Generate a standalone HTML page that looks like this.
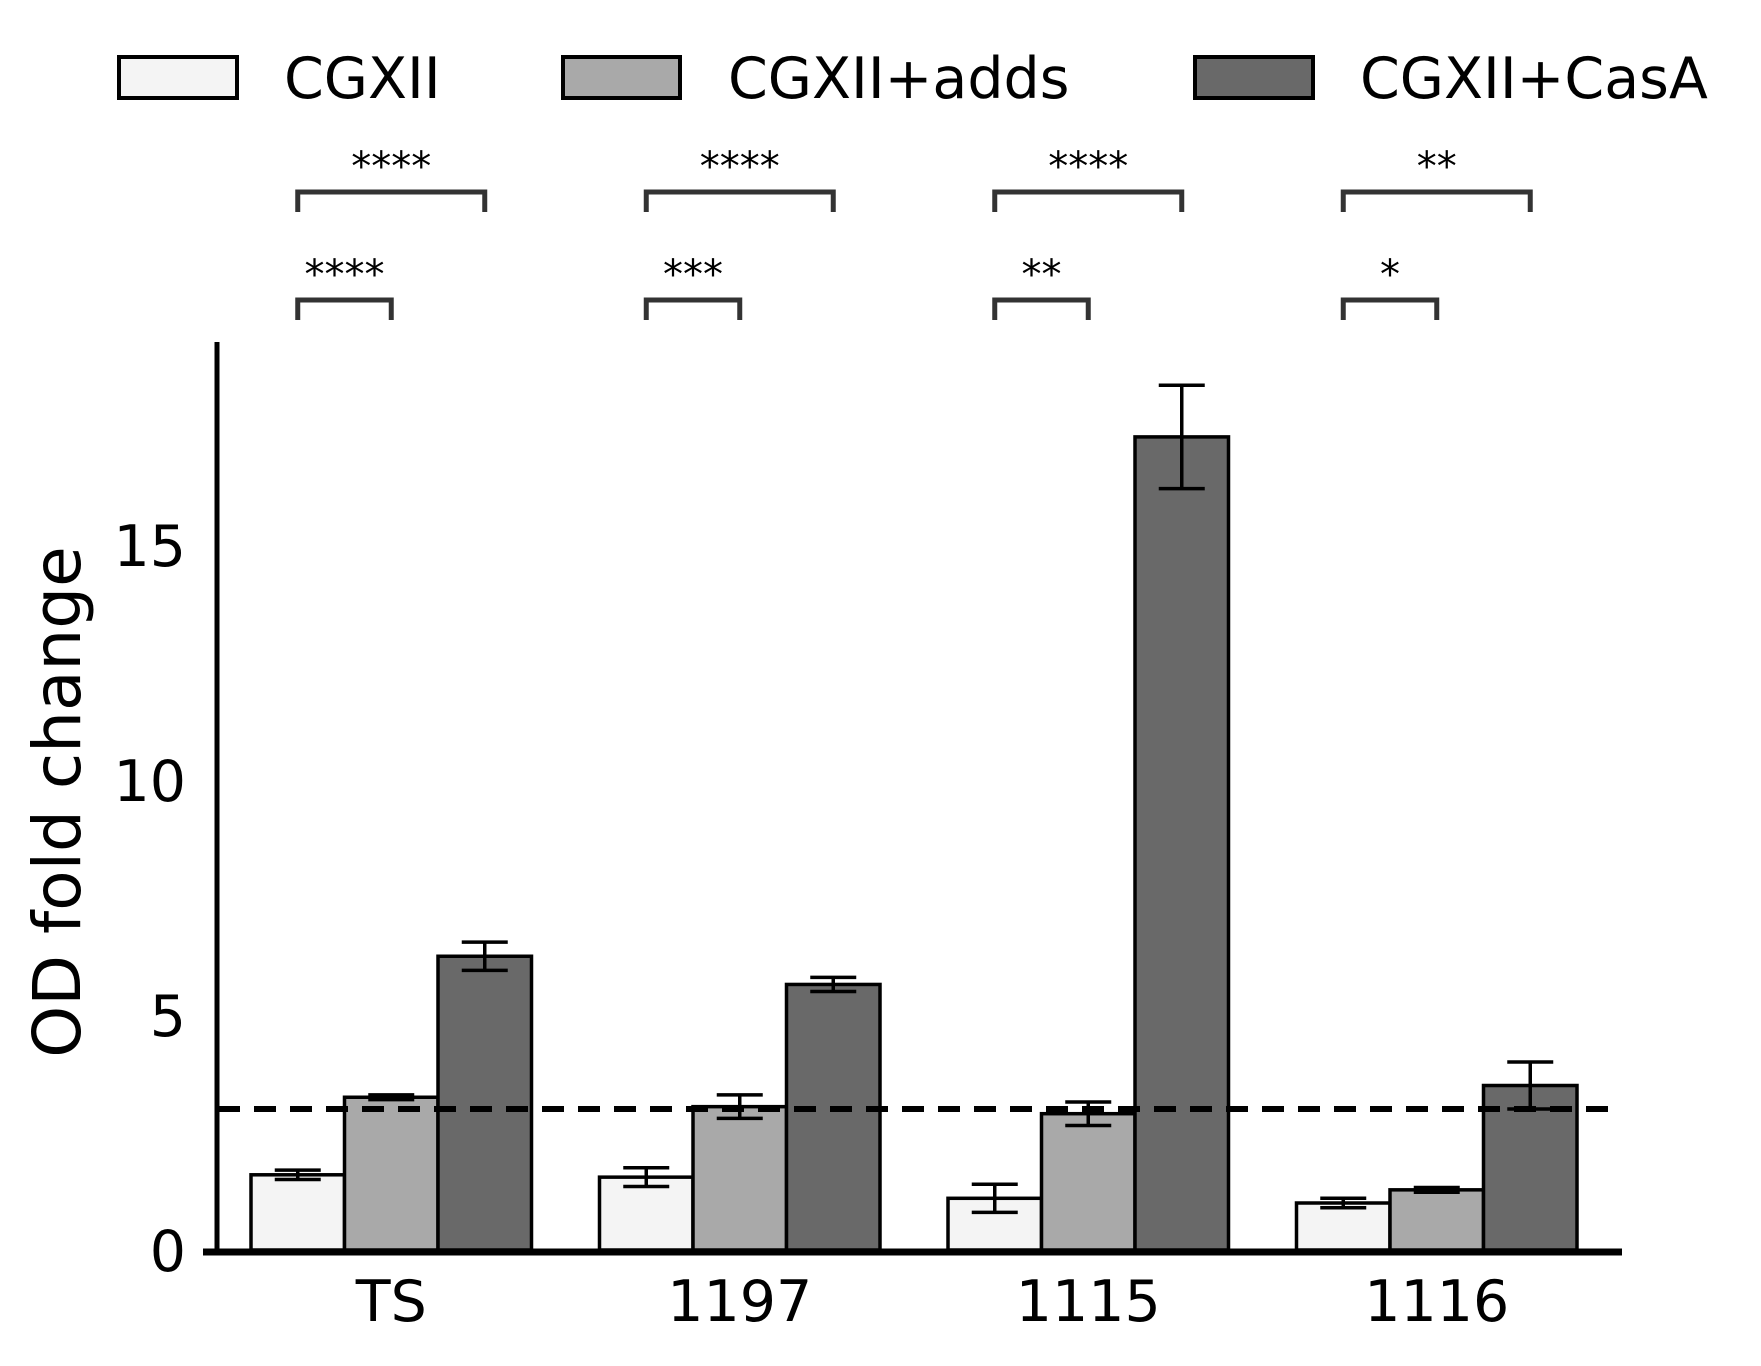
<!DOCTYPE html>
<html><head><meta charset="utf-8"><style>
body{margin:0;background:#fff}
svg{display:block;font-family:"DejaVu Sans","Liberation Sans",sans-serif}
</style></head><body>
<svg id="c" width="1761" height="1366" viewBox="0 0 1761 1366">
<g>
<rect x="119" y="57" width="118" height="41" fill="#f4f4f4" stroke="#000" stroke-width="4"/>
<text x="284" y="98" font-size="57">CGXII</text>
<rect x="563" y="57" width="117" height="41" fill="#a9a9a9" stroke="#000" stroke-width="4"/>
<text x="728" y="98" font-size="57">CGXII+adds</text>
<rect x="1195" y="57" width="118" height="41" fill="#696969" stroke="#000" stroke-width="4"/>
<text x="1360" y="98" font-size="57">CGXII+CasA</text>
</g>
<text transform="translate(80,802) rotate(-90)" text-anchor="middle" font-size="66">OD fold change</text>
<g id="plot"></g>
</svg>
<script>
const categories=["TS","1197","1115","1116"];
const cgxii=[1.6,1.55,1.1,1.0];
const cgxiiErr=[0.1,0.2,0.3,0.1];
const adds=[3.25,3.05,2.9,1.28];
const addsErr=[0.05,0.25,0.25,0.05];
const casa=[6.25,5.65,17.3,3.5];
const casaErr=[0.3,0.15,1.1,0.5];
const yTicks=[0,5,10,15];
const sigLong=["****","****","****","**"];
const sigShort=["****","***","**","*"];
const threshold=3;
const NS="http://www.w3.org/2000/svg";
const g=document.getElementById('plot');
const y0=1250,pxPerUnit=47.0;
const y=v=>y0-v*pxPerUnit;
const groupX=i=>251+i*348.5;
const bw=93.5;
function mk(t,a){const e=document.createElementNS(NS,t);for(const k in a)e.setAttribute(k,a[k]);g.appendChild(e);return e;}
const series=[[cgxii,cgxiiErr,"#f4f4f4","cgxii"],[adds,addsErr,"#a9a9a9","adds"],[casa,casaErr,"#696969","casa"]];
categories.forEach((c,i)=>{
 series.forEach((s,j)=>{
  const x=groupX(i)+j*bw,v=s[0][i],e=s[1][i];
  const r=mk('rect',{x:x,y:y(v),width:bw,height:y0-y(v),fill:s[2],stroke:'#000','stroke-width':3.5});
  
  
  const cx=x+bw/2;
  const eb=mk('path',{d:`M${cx},${y(v+e)}V${y(v-e)}M${cx-23},${y(v+e)}h46M${cx-23},${y(v-e)}h46`,stroke:'#000','stroke-width':3.5,fill:'none'});
  
  
 });
 const t=mk('text',{x:groupX(i)+bw*1.5,y:1321,'font-size':57,'text-anchor':'middle'});
 t.textContent=c;
 
 
 const x1=groupX(i)+bw/2,x2=x1+bw,x3=x1+2*bw;
 const b1=mk('path',{d:`M${x1},212V192H${x3}V212`,stroke:'#333','stroke-width':5,fill:'none'});
 
 
 const s1=mk('text',{x:(x1+x3)/2,y:180,'font-size':40,'text-anchor':'middle'});
 s1.textContent=sigLong[i];
 
 
 const b2=mk('path',{d:`M${x1},320V300H${x2}V320`,stroke:'#333','stroke-width':5,fill:'none'});
 
 
 const s2=mk('text',{x:(x1+x2)/2,y:288,'font-size':40,'text-anchor':'middle'});
 s2.textContent=sigShort[i];
 
 
});
const dl=mk('line',{x1:218,x2:1622,y1:y(threshold),y2:y(threshold),stroke:'#000','stroke-width':6,'stroke-dasharray':'22,14'});


const ya=mk('line',{x1:217,x2:217,y1:342,y2:1254,stroke:'#000','stroke-width':5});


const xa=mk('line',{x1:203,x2:1622,y1:1252,y2:1252,stroke:'#000','stroke-width':7});


yTicks.forEach(v=>{
 const t=mk('text',{x:186,y:y(v)+21,'font-size':57,'text-anchor':'end'});
 t.textContent=v;
 
 
});
</script>
</body></html>
